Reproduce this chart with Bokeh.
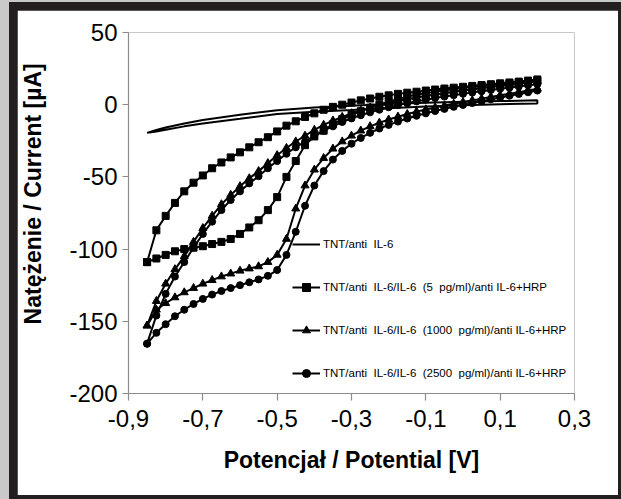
from bokeh.plotting import figure
from bokeh.models import Range1d, FixedTicker, Legend, LegendItem
from bokeh.layouts import column
from bokeh.embed import file_html
from bokeh.resources import INLINE

# Potential steps of the cyclic voltammograms [V]
potential = [-0.85, -0.825, -0.8, -0.775, -0.75, -0.725, -0.7, -0.675, -0.65, -0.625,
             -0.6, -0.575, -0.55, -0.525, -0.5, -0.475, -0.45, -0.425, -0.4, -0.375,
             -0.35, -0.325, -0.3, -0.275, -0.25, -0.225, -0.2, -0.175, -0.15, -0.125,
             -0.1, -0.075, -0.05, -0.025, 0.0, 0.025, 0.05, 0.075, 0.1, 0.125,
             0.15, 0.175, 0.2]

# TNT/anti IL-6 (no markers, sparser sampling)
potential_bare = [-0.85, -0.825, -0.8, -0.75, -0.7, -0.6, -0.5, -0.4, -0.3, -0.2, -0.1, 0.0, 0.1, 0.2]
bare_upper = [-19.5, -17.5, -15.8, -13.0, -10.6, -7.0, -3.8, -2.0, -0.8, 0.4, 1.3, 2.0, 2.5, 3.0]
bare_lower = [-19.5, -18.5, -17.3, -15.0, -13.0, -9.8, -6.5, -4.8, -3.7, -2.4, -1.3, -0.4, 0.3, 0.8]

# 5 pg/ml
sq_upper = [-109, -87, -77, -68, -60, -54, -49, -44, -40, -36.5,
            -33, -29.5, -26, -22.5, -18.5, -14.5, -11.5, -8.5, -6, -3.5,
            -1.5, 0, 1.5, 3, 4.3, 5.5, 6.5, 7.5, 8.3, 9,
            9.8, 10.5, 11.2, 11.8, 12.4, 13, 13.6, 14.2, 14.8, 15.4,
            16, 16.7, 17.5]
sq_lower = [-109, -106.5, -104, -101.5, -100, -99, -98, -96.5, -95, -93,
            -89.5, -85, -80, -73, -64, -50, -39, -28, -22, -18,
            -13.5, -10, -7, -4.5, -2, 0, 2, 4, 5.5, 7,
            8, 9, 10, 10.8, 11.5, 12.2, 12.8, 13.4, 14, 14.6,
            15.2, 15.8, 16.5]

# 1000 pg/ml
tri_upper = [-153, -136, -124, -114, -105, -95, -85.5, -77, -69, -62.5,
             -56.5, -51, -46, -40.5, -35, -30, -25.5, -21.5, -17.5, -14,
             -11, -8.5, -6, -4, -2, -0.5, 1, 2.5, 3.8, 5,
             6, 7, 8, 9, 9.8, 10.6, 11.4, 12.2, 13, 13.8,
             14.6, 15.4, 16.2]
tri_lower = [-153, -142, -137.5, -133.5, -130, -127, -124, -121.5, -119, -117,
             -115, -113.5, -112, -109, -104, -93, -72, -56, -45, -37,
             -30.5, -25.5, -21.5, -18, -15, -12.5, -10.3, -8.3, -6.5, -4.8,
             -3.3, -1.9, -0.6, 0.6, 1.8, 3, 4.2, 5.4, 6.5, 7.6,
             8.7, 9.8, 11]

# 2500 pg/ml
dot_upper = [-165.5, -146, -131, -119, -109, -99, -89.5, -81, -73, -66,
             -60, -54.5, -49.5, -44, -39, -34, -29.5, -25.5, -21.5, -18,
             -15, -12, -9.5, -7.3, -5.3, -3.5, -1.8, -0.3, 1, 2.3,
             3.5, 4.6, 5.6, 6.6, 7.5, 8.4, 9.3, 10.2, 11, 11.8,
             12.6, 13.4, 14.2]
dot_lower = [-165.5, -158, -152, -146.5, -142, -138, -134.5, -131.5, -129, -127,
             -125, -123, -121, -118.5, -114.5, -104, -88, -70, -56, -46,
             -38, -32, -27, -23, -19.5, -16.5, -14, -11.7, -9.6, -7.7,
             -6, -4.4, -2.9, -1.5, -0.2, 1.1, 2.4, 3.7, 5, 6.2,
             7.4, 8.6, 9.8]

series_labels = [
    "TNT/anti  IL-6",
    "TNT/anti  IL-6/IL-6  (5  pg/ml)/anti IL-6+HRP",
    "TNT/anti  IL-6/IL-6  (1000  pg/ml)/anti IL-6+HRP",
    "TNT/anti  IL-6/IL-6  (2500  pg/ml)/anti IL-6+HRP",
]

x_ticks = [-0.9, -0.7, -0.5, -0.3, -0.1, 0.1, 0.3]
x_tick_labels = ["-0,9", "-0,7", "-0,5", "-0,3", "-0,1", "0,1", "0,3"]
y_ticks = [-200, -150, -100, -50, 0, 50]
y_tick_labels = ["-200", "-150", "-100", "-50", "0", "50"]

x_title = "Potencjał / Potential [V]"
y_title = "Natężenie / Current [µA]"

FONT = "Liberation Sans"


def loop(xs, up, down):
    """Close a voltammogram: forward branch then the return branch."""
    return list(xs) + list(xs[::-1]), list(up) + list(down[::-1])


p = figure(width=601, height=485, output_backend="svg", toolbar_location=None,
           x_range=Range1d(-0.9, 0.3), y_range=Range1d(-200, 50),
           min_border_left=109, min_border_right=44, min_border_top=22, min_border_bottom=102)
p.margin = (8, 3, 4, 8)
p.background_fill_color = "white"
p.border_fill_color = "white"
p.outline_line_color = None
p.grid.visible = False

for ax in (p.xaxis[0], p.yaxis[0]):
    ax.axis_line_color = "#8c8c8c"
    ax.axis_line_width = 1.2
    ax.major_tick_line_color = "#8c8c8c"
    ax.major_tick_line_width = 1.2
    ax.major_tick_in = 0
    ax.minor_tick_line_color = None
    ax.major_label_text_font = FONT
    ax.major_label_text_font_size = "24px"
    ax.major_label_text_color = "black"
    ax.axis_label_text_font = FONT
    ax.axis_label_text_font_style = "bold"
    ax.axis_label_text_font_size = "23px"
    ax.axis_label_text_color = "black"

p.xaxis.ticker = FixedTicker(ticks=x_ticks)
p.xaxis.major_label_overrides = dict(zip(x_ticks, x_tick_labels))
p.xaxis.major_tick_out = 7
p.xaxis.major_label_standoff = 9
p.xaxis.axis_label = x_title
p.xaxis.axis_label_standoff = 17

p.yaxis.ticker = FixedTicker(ticks=y_ticks)
p.yaxis.major_label_overrides = dict(zip(y_ticks, y_tick_labels))
p.yaxis.major_tick_out = 6
p.yaxis.major_label_standoff = 5
# leading no-break spaces lift the rotated title a little above the frame centre
p.yaxis.axis_label = "\u00a0" * 6 + y_title
p.yaxis.axis_label_standoff = 20

items = []

bx, by = loop(potential_bare, bare_upper, bare_lower)
r0 = p.line(bx, by, line_color="black", line_width=2)
items.append(LegendItem(label=series_labels[0], renderers=[r0]))

marked = [
    (sq_upper, sq_lower, "square", 7),
    (tri_upper, tri_lower, "triangle", 8),
    (dot_upper, dot_lower, "circle", 7),
]
for (up, down, marker, size), label in zip(marked, series_labels[1:]):
    xs, ys = loop(potential, up, down)
    rl = p.line(xs, ys, line_color="black", line_width=2)
    rm = p.scatter(xs, ys, marker=marker, size=size, fill_color="black", line_color="black")
    items.append(LegendItem(label=label, renderers=[rl, rm]))

legend = Legend(items=items, location=(164, 10), orientation="vertical")
legend.border_line_color = None
legend.background_fill_alpha = 0
legend.padding = 0
legend.margin = 0
legend.spacing = 23
legend.glyph_width = 28
legend.glyph_height = 20
legend.label_height = 20
legend.label_standoff = 3
legend.label_text_font = FONT
legend.label_text_font_size = "11.5px"
legend.label_text_color = "black"
p.add_layout(legend, "center")

frame = column(p, styles={"background-color": "#231f20"})
frame.margin = (2, 0, 0, 9)
page = column(frame, styles={"background-color": "#c9c9c9"})

open("out.html", "w").write(file_html(page, INLINE))
